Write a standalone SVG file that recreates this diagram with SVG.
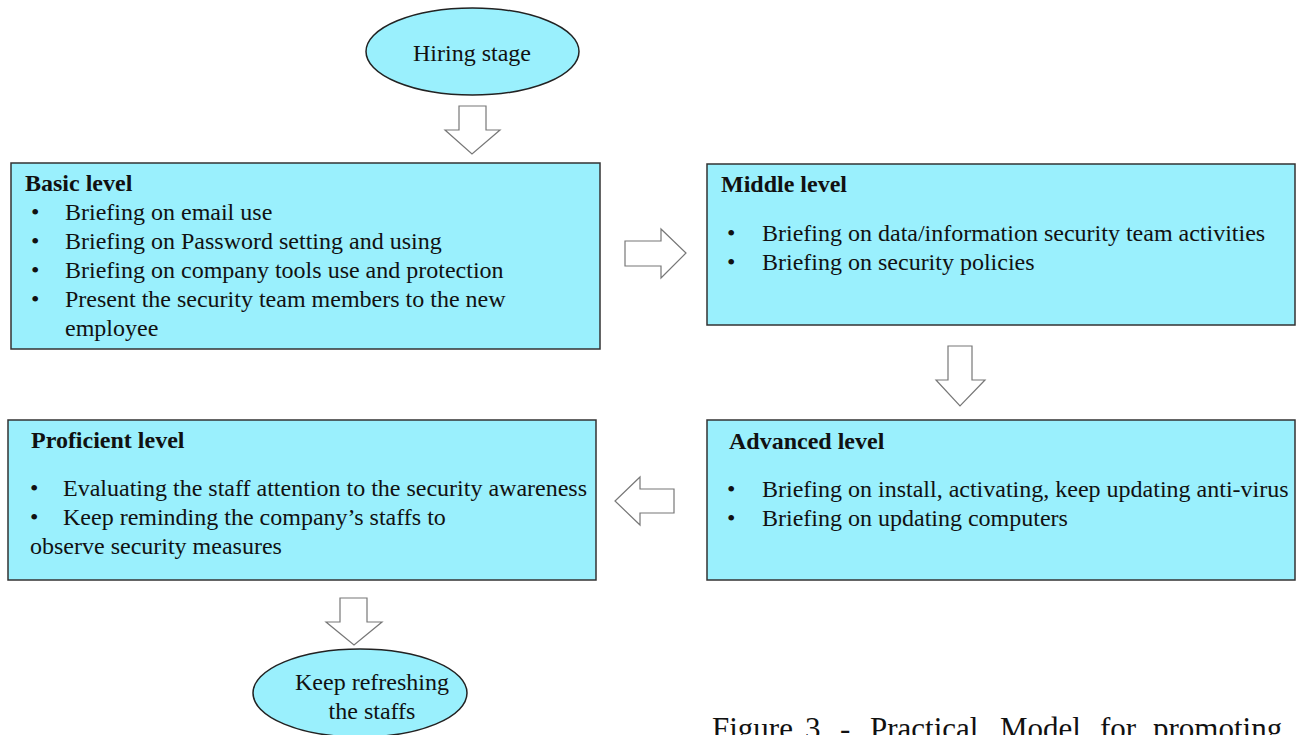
<svg xmlns="http://www.w3.org/2000/svg" width="1305" height="735" viewBox="0 0 1305 735">
<style>
.box{fill:#9af0fd;stroke:#333;stroke-width:1.5}
.ell{fill:#9af0fd;stroke:#222;stroke-width:1.5}
.arr{fill:#fff;stroke:#777;stroke-width:1.2}
text{font-family:"Liberation Serif","Times New Roman",serif;font-size:24px;fill:#111}
.b{font-weight:bold}
.c{text-anchor:middle}
.cap{font-size:31px}
</style>
<rect width="1305" height="735" fill="#fff"/>
<g id="hiring">
<ellipse class="ell" cx="472.5" cy="51.5" rx="106.5" ry="43.5"/>
<text class="c" x="472" y="61">Hiring stage</text>
</g>
<g id="basic">
<rect class="box" x="11" y="163" width="589" height="186"/>
<text class="b" x="25" y="191">Basic level</text>
<text x="31" y="220">•</text><text x="65" y="220">Briefing on email use</text>
<text x="31" y="249">•</text><text x="65" y="249">Briefing on Password setting and using</text>
<text x="31" y="278">•</text><text x="65" y="278">Briefing on company tools use and protection</text>
<text x="31" y="307">•</text><text x="65" y="307">Present the security team members to the new</text>
<text x="65" y="336">employee</text>
</g>
<g id="middle">
<rect class="box" x="707" y="164" width="588" height="161"/>
<text class="b" x="721" y="192">Middle level</text>
<text x="727" y="241">•</text><text x="762" y="241">Briefing on data/information security team activities</text>
<text x="727" y="270">•</text><text x="762" y="270">Briefing on security policies</text>
</g>
<g id="advanced">
<rect class="box" x="707" y="420" width="588" height="160"/>
<text class="b" x="729" y="449">Advanced level</text>
<text x="727" y="497">•</text><text x="762" y="497">Briefing on install, activating, keep updating anti-virus</text>
<text x="727" y="526">•</text><text x="762" y="526">Briefing on updating computers</text>
</g>
<g id="proficient">
<rect class="box" x="8" y="420" width="588" height="160"/>
<text class="b" x="31" y="448">Proficient level</text>
<text x="30" y="496">•</text><text x="63" y="496">Evaluating the staff attention to the security awareness</text>
<text x="30" y="525">•</text><text x="63" y="525">Keep reminding the company’s staffs to</text>
<text x="30" y="554">observe security measures</text>
</g>
<g id="refresh">
<ellipse class="ell" cx="360" cy="693" rx="107" ry="44"/>
<text class="c" x="372" y="690">Keep refreshing</text>
<text class="c" x="372" y="719">the staffs</text>
</g>
<g id="connectors">
<polygon class="arr" points="459,106 486,106 486,130 500,130 472,154 445,130 459,130"/>
<polygon class="arr" points="625,241 661,241 661,229 686,253 661,278 661,266 625,266"/>
<polygon class="arr" points="948,346 972,346 972,380 985,380 960,406 936,380 948,380"/>
<polygon class="arr" points="674,489 640,489 640,477 615,501 640,525 640,513 674,513"/>
<polygon class="arr" points="340,598 367,598 367,622 382,622 354,645 326,622 340,622"/>
</g>
<text class="cap" y="739"><tspan x="712">Figure</tspan><tspan x="805">3</tspan><tspan x="840">-</tspan><tspan x="870">Practical</tspan><tspan x="1000">Model</tspan><tspan x="1100">for</tspan><tspan x="1153">promoting</tspan></text>
</svg>
